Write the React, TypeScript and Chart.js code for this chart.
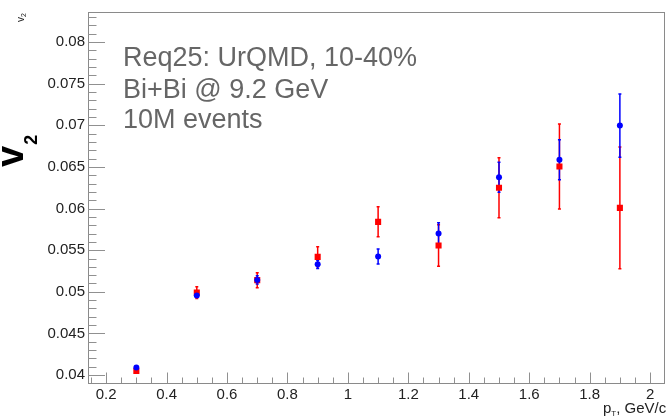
import React, { useEffect, useRef } from "react";
import { Chart, registerables } from "chart.js";

Chart.register(...registerables);

// ---- data ----
const ptValues = [0.3, 0.5, 0.7, 0.9, 1.1, 1.3, 1.5, 1.7, 1.9];
const v2Blue = [0.0409, 0.04955, 0.05143, 0.0533, 0.05425, 0.0570, 0.06377, 0.06587, 0.06996];
const v2BlueErr = [0.0002, 0.0002, 0.0005, 0.0005, 0.0009, 0.0013, 0.0018, 0.0024, 0.0038];
const v2Red = [0.0405, 0.0499, 0.0514, 0.0542, 0.0584, 0.05556, 0.0625, 0.06504, 0.06008];
const v2RedErr = [0.0002, 0.0007, 0.0009, 0.0012, 0.0018, 0.0025, 0.0036, 0.0051, 0.0073];

const xTickValues = [0.2, 0.4, 0.6, 0.8, 1, 1.2, 1.4, 1.6, 1.8, 2];
const xTickLabels = ["0.2", "0.4", "0.6", "0.8", "1", "1.2", "1.4", "1.6", "1.8", "2"];
const yTickValues = [0.04, 0.045, 0.05, 0.055, 0.06, 0.065, 0.07, 0.075, 0.08];
const yTickLabels = ["0.04", "0.045", "0.05", "0.055", "0.06", "0.065", "0.07", "0.075", "0.08"];

const annotationLines = ["Req25: UrQMD, 10-40%", "Bi+Bi @ 9.2 GeV", "10M events"];

const X_MIN = 0.14;
const X_MAX = 2.045;
const Y_MIN = 0.03905;
const Y_MAX = 0.0836;
const X_MINOR_STEP = 0.05;
const Y_MINOR_STEP = 0.001;

const FONT = '"Liberation Sans", Arial, Helvetica, sans-serif';
const BLUE = "#0000ff";
const RED = "#ff0000";

const errorBars = [
  { values: v2Red, errs: v2RedErr, color: RED },
  { values: v2Blue, errs: v2BlueErr, color: BLUE },
];

const rootPlugin = {
  id: "rootStyle",
  beforeDatasetsDraw(chart: any) {
    const ctx = chart.ctx;
    const xs = chart.scales.x;
    const ys = chart.scales.y;
    ctx.save();
    ctx.lineWidth = 1.5;
    for (const eb of errorBars) {
      ctx.strokeStyle = eb.color;
      ptValues.forEach((pt, i) => {
        const x = xs.getPixelForValue(pt);
        const yTop = ys.getPixelForValue(eb.values[i] + eb.errs[i]);
        const yBot = ys.getPixelForValue(eb.values[i] - eb.errs[i]);
        ctx.beginPath();
        ctx.moveTo(x, yTop);
        ctx.lineTo(x, yBot);
        ctx.moveTo(x - 1.5, yTop);
        ctx.lineTo(x + 1.5, yTop);
        ctx.moveTo(x - 1.5, yBot);
        ctx.lineTo(x + 1.5, yBot);
        ctx.stroke();
      });
    }
    ctx.restore();
  },
  afterDraw(chart: any) {
    const ctx = chart.ctx;
    const xs = chart.scales.x;
    const ys = chart.scales.y;
    const a = chart.chartArea;
    ctx.save();
    // frame
    ctx.strokeStyle = "#8a8a8a";
    ctx.lineWidth = 1;
    ctx.strokeRect(Math.round(a.left) + 0.5, Math.round(a.top) + 0.5, Math.round(a.right - a.left), Math.round(a.bottom - a.top));
    // y ticks
    ctx.strokeStyle = "#909090";
    ctx.beginPath();
    const yStart = Math.ceil(Y_MIN / Y_MINOR_STEP);
    const yEnd = Math.floor(Y_MAX / Y_MINOR_STEP);
    for (let k = yStart; k <= yEnd; k++) {
      const v = k * Y_MINOR_STEP;
      const major = yTickValues.some((t) => Math.abs(t - v) < 1e-7);
      const y = Math.round(ys.getPixelForValue(v)) + 0.5;
      ctx.moveTo(a.left, y);
      ctx.lineTo(a.left + (major ? 17 : 8.5), y);
    }
    // x ticks
    const xStart = Math.ceil(X_MIN / X_MINOR_STEP);
    const xEnd = Math.floor(X_MAX / X_MINOR_STEP);
    for (let k = xStart; k <= xEnd; k++) {
      const v = k * X_MINOR_STEP;
      const major = xTickValues.some((t) => Math.abs(t - v) < 1e-7);
      const x = Math.round(xs.getPixelForValue(v)) + 0.5;
      ctx.moveTo(x, a.bottom);
      ctx.lineTo(x, a.bottom - (major ? 10.5 : 5.5));
    }
    ctx.stroke();

    // annotation
    ctx.fillStyle = "#666666";
    ctx.font = `27px ${FONT}`;
    ctx.textAlign = "left";
    ctx.textBaseline = "alphabetic";
    const baselines = [66, 98, 128];
    annotationLines.forEach((line, i) => ctx.fillText(line, 123, baselines[i]));

    // big y title  v_2
    ctx.save();
    ctx.translate(23, 167);
    ctx.rotate(-Math.PI / 2);
    ctx.fillStyle = "#000";
    ctx.font = `bold 38px ${FONT}`;
    ctx.fillText("v", 0, 0);
    const vw = ctx.measureText("v").width;
    ctx.font = `bold 18px ${FONT}`;
    ctx.fillText("2", vw + 1, 14);
    ctx.restore();

    // small y title v_2 top-left
    ctx.save();
    ctx.translate(24, 22);
    ctx.rotate(-Math.PI / 2);
    ctx.fillStyle = "#222";
    ctx.font = `10px ${FONT}`;
    ctx.fillText("v", 0, 0);
    const sw = ctx.measureText("v").width;
    ctx.font = `7px ${FONT}`;
    ctx.fillText("2", sw, 2);
    ctx.restore();

    // x title p_T, GeV/c
    ctx.fillStyle = "#222";
    ctx.font = `15px ${FONT}`;
    let tx = 603;
    const ty = 413;
    ctx.fillText("p", tx, ty);
    tx += ctx.measureText("p").width;
    ctx.font = `8px ${FONT}`;
    ctx.fillText("T", tx, ty + 3);
    tx += ctx.measureText("T").width;
    ctx.font = `15px ${FONT}`;
    ctx.fillText(", GeV/c", tx, ty);
    ctx.restore();
  },
};

export default function App() {
  const canvasRef = useRef<HTMLCanvasElement | null>(null);

  useEffect(() => {
    const canvas = canvasRef.current;
    if (!canvas) return;
    const chart = new Chart(canvas, {
      type: "scatter",
      data: {
        datasets: [
          {
            label: "blue",
            data: ptValues.map((x, i) => ({ x, y: v2Blue[i] })),
            pointStyle: "circle",
            pointRadius: 3,
            backgroundColor: BLUE,
            borderColor: BLUE,
            borderWidth: 0,
            order: 0,
          },
          {
            label: "red",
            data: ptValues.map((x, i) => ({ x, y: v2Red[i] })),
            pointStyle: "rect",
            pointRadius: 4.3,
            backgroundColor: RED,
            borderColor: RED,
            borderWidth: 0,
            order: 1,
          },
        ],
      },
      options: {
        animation: false,
        responsive: false,
        devicePixelRatio: 1,
        layout: { padding: { left: 0, top: 9, right: 4, bottom: 0 } },
        plugins: { legend: { display: false }, tooltip: { enabled: false } },
        scales: {
          x: {
            type: "linear",
            min: X_MIN,
            max: X_MAX,
            grid: { display: false, drawTicks: false },
            border: { display: false },
            afterBuildTicks: (s: any) => {
              s.ticks = xTickValues.map((v) => ({ value: v }));
            },
            afterFit: (s: any) => {
              s.height = 35;
            },
            ticks: {
              padding: 3,
              maxRotation: 0,
              autoSkip: false,
              color: "#222",
              font: { family: FONT, size: 15 },
              callback: (_v: any, i: number) => xTickLabels[i],
            },
          },
          y: {
            type: "linear",
            min: Y_MIN,
            max: Y_MAX,
            grid: { display: false, drawTicks: false },
            border: { display: false },
            afterBuildTicks: (s: any) => {
              s.ticks = yTickValues.map((v) => ({ value: v }));
            },
            afterFit: (s: any) => {
              s.width = 88;
            },
            ticks: {
              padding: 3,
              autoSkip: false,
              color: "#222",
              font: { family: FONT, size: 15 },
              callback: (_v: any, i: number) => yTickLabels[i],
            },
          },
        },
      },
      plugins: [rootPlugin],
    } as any);
    return () => chart.destroy();
  }, []);

  return (
    <div style={{ position: "fixed", left: 0, top: 0, width: 668, height: 418, background: "#fff" }}>
      <canvas ref={canvasRef} width={668} height={418} style={{ display: "block" }} />
    </div>
  );
}
